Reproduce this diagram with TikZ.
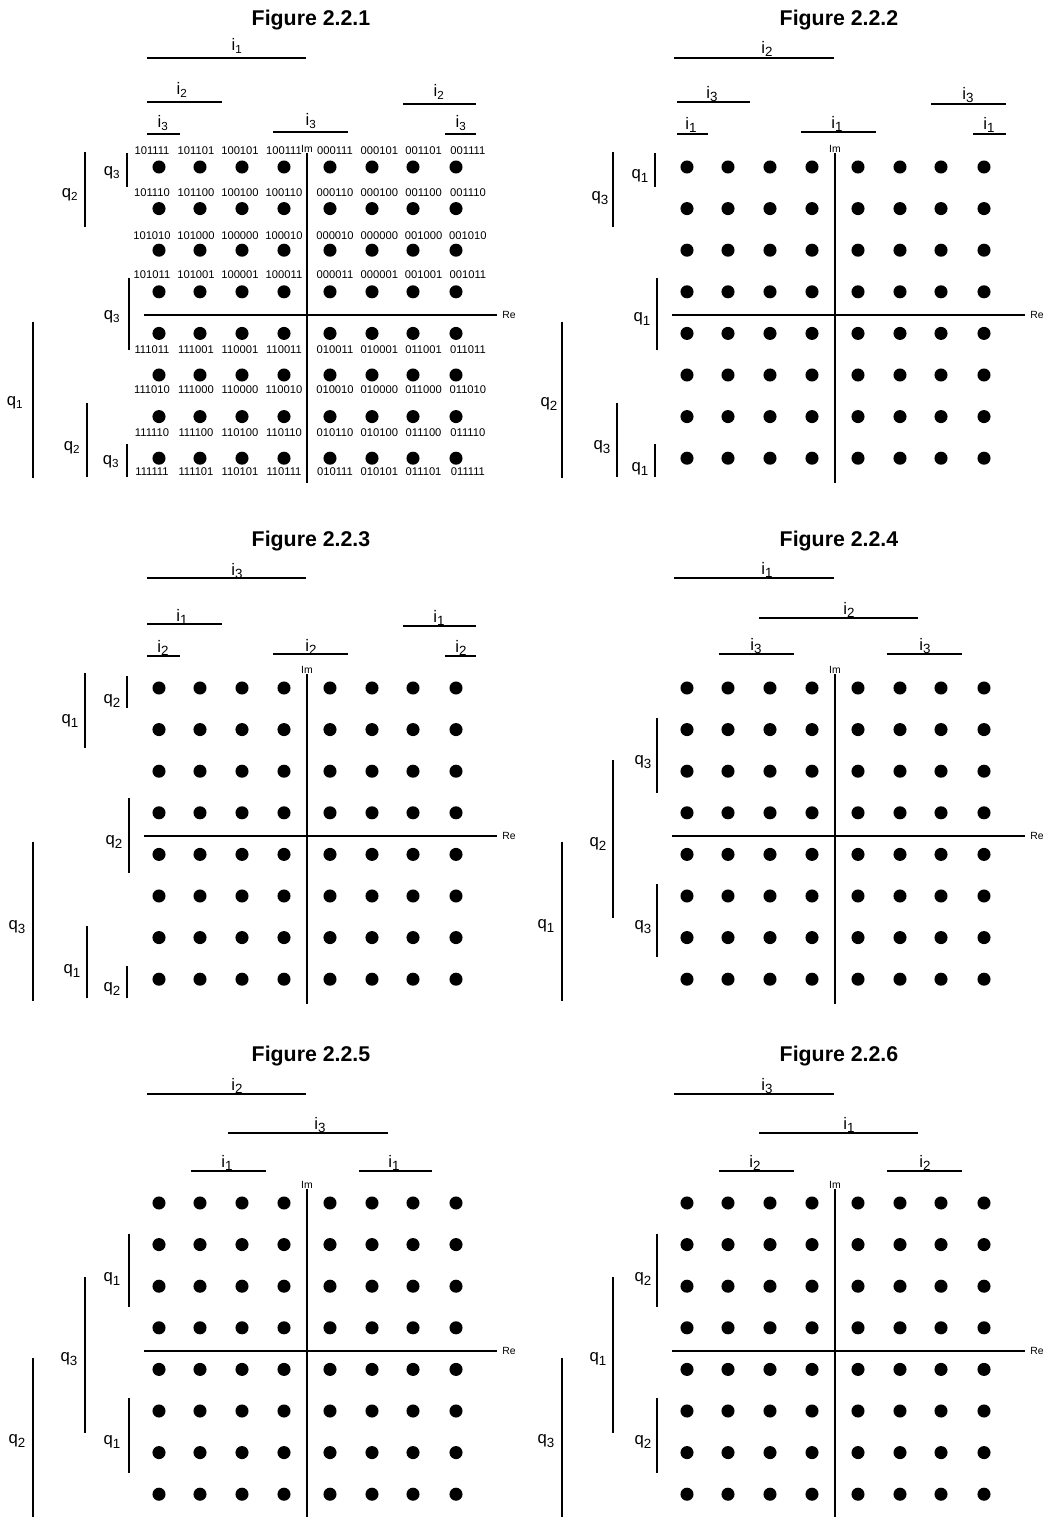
\documentclass[tikz,border=0pt]{standalone}
\usepackage{fontspec}
\setmainfont{Liberation Sans}
\tikzset{
  barline/.style={line width=1.5pt},
  axisline/.style={line width=1.5pt},
  lbl/.style={font=\fontsize{12.5}{14}\selectfont, inner sep=0pt},
  bits/.style={font=\fontsize{8.4}{9}\selectfont, inner sep=0pt},
  axlbl/.style={font=\fontsize{7.8}{8}\selectfont, inner sep=0pt},
  ttl/.style={font=\fontsize{16}{18}\selectfont\bfseries, inner sep=0pt}
}
\newcommand{\sbl}[1]{\raisebox{-0.4ex}{\fontsize{10}{10}\selectfont #1}}
% common panel: prefix, title
\newcommand{\panel}[2]{%
  \node[ttl] (#1t) at (311,20) {#2};
  \node[axlbl] (#1im) at (307,149) {Im};
  \coordinate (#1imb) at (307,483);
  \draw[axisline] (#1im.south) -- (#1imb);
  \coordinate (#1rel) at (144,315);
  \coordinate (#1rer) at (497,315);
  \draw[axisline] (#1rel) -- (#1rer);
  \node[axlbl, anchor=west] (#1re) at (502,315) {Re};
  \foreach \x in {159,200,242,284,330,372,413,456}
    \foreach \r in {1,...,8}
      \fill (\x,{167+41.6*(\r-1)}) circle[radius=4.9pt];
}
% horizontal bar: name, x1, x2, y, lx, ly, text
\newcommand{\ib}[7]{\draw[barline] (#2,#4) -- (#3,#4); \node[lbl] (#1) at (#5,#6) {#7};}
% vertical bar: name, x, y1, y2, lx, ly, text
\newcommand{\qb}[7]{\draw[barline] (#2,#3) -- (#2,#4); \node[lbl] (#1) at (#5,#6) {#7};}
% bit label row: row index, y, list
\newcommand{\bitrow}[3]{%
  \foreach \t [count=\c] in {#3}
    \node[bits] (b#1-\c) at ({ifthenelse(\c<5,152+44*(\c-1),335+44.3*(\c-5))},#2) {\t};}
\begin{document}
\begin{tikzpicture}[x=0.75pt,y=-0.75pt]
\useasboundingbox (0,0) rectangle (1047,1517);

% ---------------- Figure 2.2.1
\begin{scope}
  \panel{fa}{Figure 2.2.1}
  \ib{faA}{147}{306}{58}{237}{46}{i\textsubscript{1}}
  \ib{faB}{147}{222}{102}{182}{90}{i\textsubscript{2}}
  \ib{faC}{403}{476}{104}{439}{92}{i\textsubscript{2}}
  \ib{faD}{147}{180}{134}{163}{123}{i\textsubscript{3}}
  \ib{faE}{273}{348}{132}{311}{121}{i\textsubscript{3}}
  \ib{faF}{445}{476}{134}{461}{123}{i\textsubscript{3}}
  \qb{faG}{85}{152}{227}{70}{195}{q\textsubscript{2}}
  \qb{faH}{127}{153}{187}{112}{173}{q\textsubscript{3}}
  \qb{faI}{129}{278}{350}{112}{317}{q\textsubscript{3}}
  \qb{faJ}{33}{322}{478}{15}{403}{q\textsubscript{1}}
  \qb{faK}{87}{403}{477}{72}{448}{q\textsubscript{2}}
  \qb{faL}{127}{444}{477}{111}{462}{q\textsubscript{3}}
  \bitrow{1}{151}{101111,101101,100101,100111,000111,000101,001101,001111}
  \bitrow{2}{193}{101110,101100,100100,100110,000110,000100,001100,001110}
  \bitrow{3}{236}{101010,101000,100000,100010,000010,000000,001000,001010}
  \bitrow{4}{275}{101011,101001,100001,100011,000011,000001,001001,001011}
  \bitrow{5}{350}{111011,111001,110001,110011,010011,010001,011001,011011}
  \bitrow{6}{390}{111010,111000,110000,110010,010010,010000,011000,011010}
  \bitrow{7}{433}{111110,111100,110100,110110,010110,010100,011100,011110}
  \bitrow{8}{472}{111111,111101,110101,110111,010111,010101,011101,011111}
\end{scope}

% ---------------- Figure 2.2.2
\begin{scope}[shift={(528,0)}]
  \panel{fb}{Figure 2.2.2}
  \ib{fbA}{146}{306}{58}{239}{49}{i\sbl{2}}
  \ib{fbB}{149}{222}{102}{184}{94}{i\sbl{3}}
  \ib{fbC}{403}{478}{104}{440}{95}{i\sbl{3}}
  \ib{fbD}{149}{180}{134}{163}{125}{i\sbl{1}}
  \ib{fbE}{273}{348}{132}{309}{124}{i\sbl{1}}
  \ib{fbF}{445}{478}{134}{461}{125}{i\sbl{1}}
  \qb{fbG}{85}{152}{227}{72}{198}{q\sbl{3}}
  \qb{fbH}{127}{153}{187}{112}{176}{q\sbl{1}}
  \qb{fbI}{129}{278}{350}{114}{319}{q\sbl{1}}
  \qb{fbJ}{34}{322}{478}{21}{404}{q\sbl{2}}
  \qb{fbK}{89}{403}{477}{74}{447}{q\sbl{3}}
  \qb{fbL}{127}{444}{477}{112}{469}{q\sbl{1}}
\end{scope}

% ---------------- Figure 2.2.3
\begin{scope}[shift={(0,521)}]
  \panel{fc}{Figure 2.2.3}
  \ib{fcA}{147}{306}{57}{237}{50}{i\sbl{3}}
  \ib{fcB}{147}{222}{103}{182}{96}{i\sbl{1}}
  \ib{fcC}{403}{476}{105}{439}{97}{i\sbl{1}}
  \ib{fcD}{147}{180}{135}{163}{127}{i\sbl{2}}
  \ib{fcE}{273}{348}{133}{311}{126}{i\sbl{2}}
  \ib{fcF}{445}{476}{135}{461}{127}{i\sbl{2}}
  \qb{fcG}{85}{152}{227}{70}{200}{q\sbl{1}}
  \qb{fcH}{127}{155}{187}{112}{180}{q\sbl{2}}
  \qb{fcI}{129}{277}{352}{114}{321}{q\sbl{2}}
  \qb{fcJ}{33}{321}{480}{17}{406}{q\sbl{3}}
  \qb{fcK}{87}{405}{477}{72}{450}{q\sbl{1}}
  \qb{fcL}{127}{445}{477}{112}{468}{q\sbl{2}}
\end{scope}

% ---------------- Figure 2.2.4
\begin{scope}[shift={(528,521)}]
  \panel{fd}{Figure 2.2.4}
  \ib{fdA}{146}{306}{57}{239}{49}{i\sbl{1}}
  \ib{fdB}{231}{390}{97}{321}{89}{i\sbl{2}}
  \ib{fdC}{191}{266}{133}{228}{125}{i\sbl{3}}
  \ib{fdD}{359}{434}{133}{397}{125}{i\sbl{3}}
  \qb{fdE}{129}{197}{272}{115}{241}{q\sbl{3}}
  \qb{fdF}{85}{239}{397}{70}{323}{q\sbl{2}}
  \qb{fdG}{34}{321}{480}{18}{405}{q\sbl{1}}
  \qb{fdH}{129}{363}{436}{115}{406}{q\sbl{3}}
\end{scope}

% ---------------- Figure 2.2.5
\begin{scope}[shift={(0,1036)}]
  \panel{fe}{Figure 2.2.5}
  \ib{feA}{147}{306}{58}{237}{50}{i\sbl{2}}
  \ib{feB}{228}{388}{97}{320}{89}{i\sbl{3}}
  \ib{feC}{191}{266}{135}{227}{127}{i\sbl{1}}
  \ib{feD}{359}{432}{135}{394}{127}{i\sbl{1}}
  \qb{feE}{129}{198}{271}{112}{243}{q\sbl{1}}
  \qb{feF}{85}{241}{397}{69}{323}{q\sbl{3}}
  \qb{feG}{33}{322}{481}{17}{405}{q\sbl{2}}
  \qb{feH}{129}{362}{437}{112}{406}{q\sbl{1}}
\end{scope}

% ---------------- Figure 2.2.6
\begin{scope}[shift={(528,1036)}]
  \panel{ff}{Figure 2.2.6}
  \ib{ffA}{146}{306}{58}{239}{50}{i\sbl{3}}
  \ib{ffB}{231}{390}{97}{321}{89}{i\sbl{1}}
  \ib{ffC}{191}{266}{135}{227}{127}{i\sbl{2}}
  \ib{ffD}{359}{434}{135}{397}{127}{i\sbl{2}}
  \qb{ffE}{129}{198}{271}{115}{243}{q\sbl{2}}
  \qb{ffF}{85}{241}{397}{70}{323}{q\sbl{1}}
  \qb{ffG}{34}{322}{481}{18}{405}{q\sbl{3}}
  \qb{ffH}{129}{362}{437}{115}{406}{q\sbl{2}}
\end{scope}
\end{tikzpicture}
\end{document}
